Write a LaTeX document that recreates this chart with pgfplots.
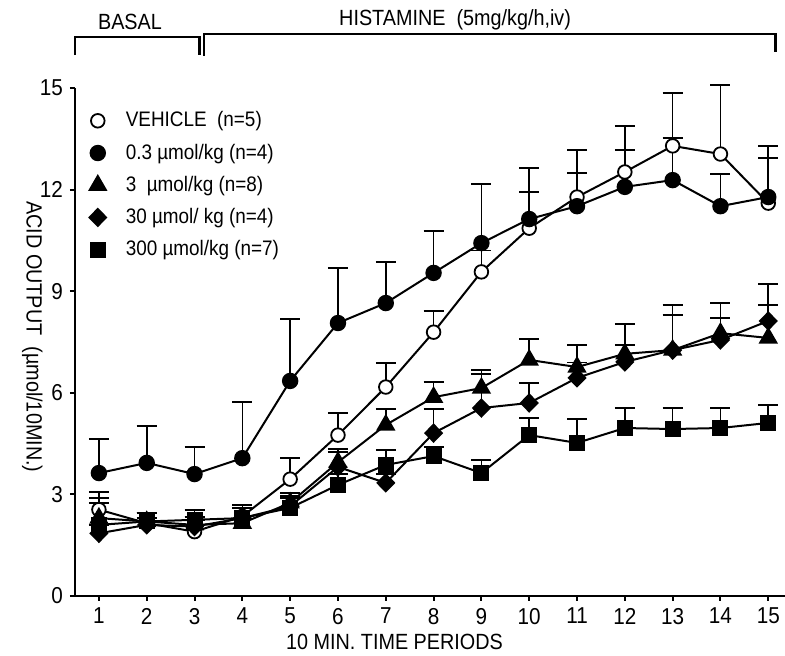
\documentclass[border=0pt]{standalone}
\usepackage{fontspec}
\setmainfont{Liberation Sans}[FakeStretch=0.9]
\usepackage{pgfplots}
\usepackage{pgfplotstable}
\pgfplotsset{compat=1.18}

% x = period, y = mean acid output, e = SEM (upper bar only)
\pgfplotstableread{
x y e
1 2.55 0.52
2 2.15 0.30
3 1.90 0.43
4 2.35 0.34
5 3.45 0.62
6 4.75 0.65
7 6.17 0.71
8 7.79 0.62
9 9.57 0.63
10 10.86 1.07
11 11.78 0.71
12 12.52 0.65
13 13.29 1.56
14 13.05 2.04
15 11.60 1.33
}\vehicle
\pgfplotstableread{
x y e
1 3.63 1.01
2 3.93 1.09
3 3.60 0.80
4 4.07 1.66
5 6.35 1.83
6 8.06 1.62
7 8.65 1.21
8 9.54 1.24
9 10.42 1.74
10 11.13 1.51
11 11.51 1.66
12 12.08 1.80
13 12.28 1.24
14 11.51 0.95
15 11.78 1.51
}\dosea
\pgfplotstableread{
x y e
1 2.30 0.59
2 2.20 0.25
3 2.10 0.23
4 2.15 0.45
5 2.75 0.29
6 3.95 0.39
7 5.05 0.47
8 5.87 0.45
9 6.14 0.53
10 6.97 0.62
11 6.76 0.65
12 7.15 0.88
13 7.26 1.04
14 7.76 0.89
15 7.62 0.97
}\doseb
\pgfplotstableread{
x y e
1 1.85 0.25
2 2.10 0.20
3 2.05 0.20
4 2.30 0.30
5 2.65 0.30
6 3.81 0.44
7 3.34 0.26
8 4.81 0.71
9 5.55 1.00
10 5.70 0.59
11 6.44 0.46
12 6.91 0.50
13 7.26 1.33
14 7.56 0.64
15 8.12 1.09
}\dosec
\pgfplotstableread{
x y e
1 2.10 0.65
2 2.20 0.25
3 2.25 0.29
4 2.30 0.39
5 2.60 0.30
6 3.28 0.32
7 3.87 0.44
8 4.13 0.27
9 3.63 0.39
10 4.75 0.51
11 4.52 0.71
12 4.96 0.59
13 4.93 0.62
14 4.96 0.59
15 5.11 0.53
}\dosed

\begin{document}
\begin{tikzpicture}
\begin{axis}[
  at={(0,0)}, anchor=south west,
  scale only axis, width=355pt, height=254pt,
  xmin=0.5, xmax=15.35, ymin=0, ymax=15,
  axis x line*=bottom, axis y line*=left,
  axis line style={line width=1.2pt, -},
  xtick={1,...,15}, ytick={0,3,...,15},
  tick align=outside, major tick length=2.5pt,
  tick style={line width=1pt, black},
  /pgf/number format/assume math mode=true,
  tick label style={font=\fontsize{11.5}{13}\selectfont},
  label style={font=\fontsize{11}{13}\selectfont},
  xlabel={10 MIN. TIME PERIODS},
  xlabel style={at={(axis description cs:0.45,-0.09)}, anchor=center},
  ylabel={ACID OUTPUT\ \ ({\textmu}mol/10MIN.)},
  ylabel style={rotate=180, at={(axis description cs:-0.06,0.51)}, anchor=center},
  clip=false,
  error bars/y dir=plus, error bars/y explicit,
  error bars/error bar style={line width=0.8pt, black},
  error bars/error mark options={rotate=90, line width=0.8pt, mark size=5pt, black},
  legend image code/.code={\path[draw=none] (0pt,0pt) -- (12pt,0pt);\draw[#1, only marks] plot coordinates {(0pt,0pt)};},
  legend cell align=left,
  legend style={draw=none, fill=none, at={(axis description cs:0.02,0.962)}, anchor=north west,
    font=\fontsize{10.5}{12}\selectfont, row sep=3pt, inner sep=0pt},
]
\addplot[black, line width=1pt, mark=*, mark size=3.4pt, mark options={fill=white, line width=0.9pt}] table[y error=e] {\vehicle};
\addlegendentry{VEHICLE\ \ (n=5)}
\addplot[black, line width=1pt, mark=*, mark size=3.6pt, mark options={fill=black}] table[y error=e] {\dosea};
\addlegendentry{0.3 {\textmu}mol/kg (n=4)}
\addplot[black, line width=1pt, mark=triangle*, mark size=4.6pt, mark options={fill=black}] table[y error=e] {\doseb};
\addlegendentry{3 \ {\textmu}mol/kg (n=8)}
\addplot[black, line width=1pt, mark=diamond*, mark size=4.2pt, mark options={fill=black, xscale=1.3}] table[y error=e] {\dosec};
\addlegendentry{30 {\textmu}mol/ kg (n=4)}
\addplot[black, line width=1pt, mark=square*, mark size=3.5pt, mark options={fill=black}] table[y error=e] {\dosed};
\addlegendentry{300 {\textmu}mol/kg (n=7)}
\draw[line width=1.2pt] (axis cs:0.5,15.97) |- (axis cs:3.1,16.5) -- (axis cs:3.1,15.97);
\draw[line width=1.2pt] (axis cs:3.2,15.95) |- (axis cs:15.15,16.6) -- (axis cs:15.15,16.05);
\node[font=\fontsize{11}{13}\selectfont] at (axis cs:1.65,16.95) {BASAL};
\node[font=\fontsize{11}{13}\selectfont] at (axis cs:8.45,17.0) {HISTAMINE\ \ (5mg/kg/h,iv)};
\end{axis}
\pgfresetboundingbox
\path (-37.5pt,-30pt) rectangle (355pt,298pt);
\end{tikzpicture}
\end{document}
